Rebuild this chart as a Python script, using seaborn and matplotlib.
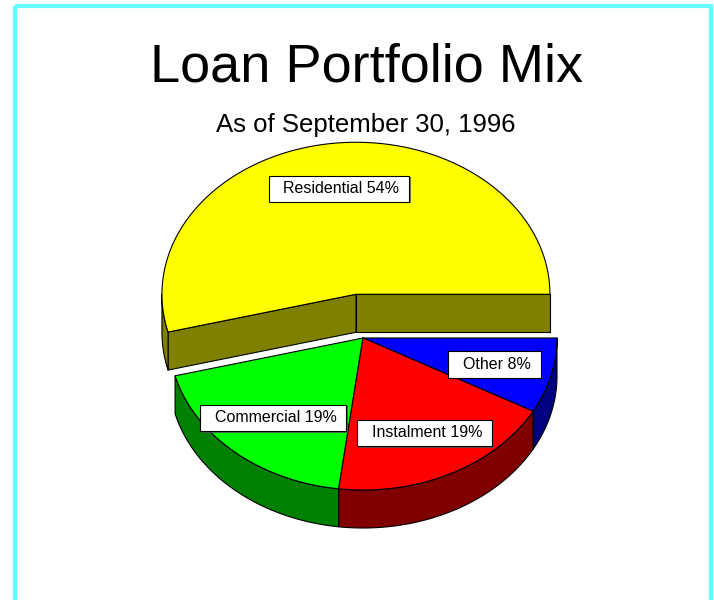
import numpy as np
import matplotlib
matplotlib.use("Agg")
import matplotlib.pyplot as plt
import matplotlib.patheffects as pe
import seaborn as sns
from matplotlib.patches import Polygon, Rectangle

# data
categories = ["Residential", "Commercial", "Instalment", "Other"]
shares = [54, 19, 19, 8]
top_colors = ["#FFFF00", "#00FF00", "#FF0000", "#0000FF"]
side_colors = ["#808000", "#008000", "#800000", "#000080"]
explode = [0.29, 0, 0, 0]

title = "Loan Portfolio Mix"
subtitle = "As of September 30, 1996"

# layout of the 3d pie (pixel units)
cx, cy = 363, 338
rx, ry = 194, 152
depth = 38
label_r = 0.7

sns.set_theme(style="white")
plt.rcParams["font.family"] = ["Liberation Sans", "DejaVu Sans"]
plt.rcParams["text.color"] = "black"

fig = plt.figure(figsize=(7.14, 6.0), dpi=100)
ax = fig.add_axes([0, 0, 1, 1])
ax.set_xlim(0, 714)
ax.set_ylim(600, 0)
ax.axis("off")

# cyan frame
ax.add_patch(Rectangle((15, 6), 695.5, 610, fill=False, ec="#66FFFF", lw=3))


def pt(theta, r, ox, oy, z=0):
    return (ox + r * rx * np.cos(theta), oy - r * ry * np.sin(theta) + z)


total = float(sum(shares))
bounds = np.concatenate([[0], np.cumsum(shares)]) / total * 2 * np.pi
slices = []
for i, cat in enumerate(categories):
    a1, a2 = bounds[i], bounds[i + 1]
    mid = (a1 + a2) / 2
    ox = cx + explode[i] * rx * np.cos(mid)
    oy = cy - explode[i] * ry * np.sin(mid)
    slices.append((np.sin(mid) + explode[i], i, a1, a2, mid, ox, oy))

# back to front
slices.sort(key=lambda s: -s[0])

for _, i, a1, a2, mid, ox, oy in slices:
    kw = dict(ec="black", lw=0.8, joinstyle="round")
    # radial faces
    for a, vis in ((a1, np.cos(a1) > 1e-9), (a2, np.cos(a2) < -1e-9)):
        if vis:
            p0 = pt(a, 0, ox, oy)
            p1 = pt(a, 1, ox, oy)
            quad = [p0, p1, (p1[0], p1[1] + depth), (p0[0], p0[1] + depth)]
            ax.add_patch(Polygon(quad, closed=True, fc=side_colors[i], **kw))
    # outer curved side (front half only)
    s, e = max(a1, np.pi), min(a2, 2 * np.pi)
    if e > s:
        th = np.linspace(s, e, 80)
        top = [pt(t, 1, ox, oy) for t in th]
        bot = [(x, y + depth) for x, y in top[::-1]]
        ax.add_patch(Polygon(top + bot, closed=True, fc=side_colors[i], **kw))
    # top face
    th = np.linspace(a1, a2, 200)
    face = [pt(0, 0, ox, oy)] + [pt(t, 1, ox, oy) for t in th]
    ax.add_patch(Polygon(face, closed=True, fc=top_colors[i], **kw))

# labels
for _, i, a1, a2, mid, ox, oy in slices:
    lx, ly = pt(mid, label_r, ox, oy)
    t = ax.text(lx, ly, f"  {categories[i]} {shares[i]}% ", ha="center", va="center",
                fontsize=11.5, color="black",
                bbox=dict(boxstyle="square,pad=0.35", fc="white", ec="black", lw=0.8))
    t.get_bbox_patch().set_path_effects(
        [pe.SimplePatchShadow(offset=(1.2, -1.2), shadow_rgbFace="#555555", alpha=0.8), pe.Normal()])

ax.text(367, 81, title, ha="center", va="baseline", fontsize=39, color="black")
ax.text(366, 132, subtitle, ha="center", va="baseline", fontsize=18.5, color="black")

fig.savefig("out.png", dpi=100)
